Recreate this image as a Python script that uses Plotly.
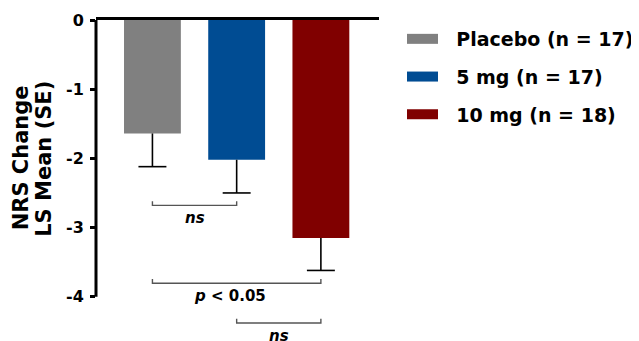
import plotly.graph_objects as go

# ---- data ----
groups = ["Placebo (n = 17)", "5 mg (n = 17)", "10 mg (n = 18)"]
means = [-1.64, -2.02, -3.15]
se = [0.48, 0.48, 0.47]
colors = ["#808080", "#004C93", "#800000"]

ytick_vals = [0, -1, -2, -3, -4]
ytick_text = ["0", "-1", "-2", "-3", "-4"]

comparisons = [(0, 1), (0, 2), (1, 2)]
comp_labels = ["<i>ns</i>", "<i>p</i> &lt; 0.05", "<i>ns</i>"]
comp_levels = [-2.68, -3.805, -4.38]

title_lines = ["NRS Change", "LS Mean (SE)"]

FONT = "DejaVu Sans"
label_xshift = [0, -7, 0]
xpos = list(range(len(groups)))

fig = go.Figure()

# bars
for i, (g, m, c) in enumerate(zip(groups, means, colors)):
    fig.add_trace(go.Bar(x=[xpos[i]], y=[m], width=0.675, marker=dict(color=c, line=dict(width=0)),
                         showlegend=False, hoverinfo="skip"))

# error bars (downward only)
cap = 0.166
ex, ey = [], []
for i, (m, s) in enumerate(zip(means, se)):
    ex += [xpos[i], xpos[i], None, xpos[i] - cap, xpos[i] + cap, None]
    ey += [m, m - s, None, m - s, m - s, None]
fig.add_trace(go.Scatter(x=ex, y=ey, mode="lines", line=dict(color="black", width=1.6),
                         showlegend=False, hoverinfo="skip"))

# comparison brackets
tick_h = 0.06
bx, by = [], []
for (a, b), lev in zip(comparisons, comp_levels):
    bx += [xpos[a], xpos[a], xpos[b], xpos[b], None]
    by += [lev + tick_h, lev, lev, lev + tick_h, None]
fig.add_trace(go.Scatter(x=bx, y=by, mode="lines", line=dict(color="#555555", width=1.4),
                         showlegend=False, hoverinfo="skip"))

for (a, b), lev, lab, xs in zip(comparisons, comp_levels, comp_labels, label_xshift):
    fig.add_annotation(x=(xpos[a] + xpos[b]) / 2, y=lev, xref="x", yref="y", text=lab,
                       showarrow=False, yanchor="top", xanchor="center", yshift=-2, xshift=xs,
                       font=dict(family=FONT, size=15, color="black", weight="bold"))

# legend-only entries (wide swatches)
for i, (g, c) in enumerate(zip(groups, colors)):
    fig.add_trace(go.Scatter(x=[None], y=[None], mode="lines", name="\u00a0\u00a0" + g, legendgroup=g,
                             line=dict(color=c, width=12)))

# y-axis line from 0 to -4
fig.add_shape(type="line", xref="paper", x0=0, x1=0, yref="y", y0=ytick_vals[0], y1=ytick_vals[-1],
              line=dict(color="black", width=3))

# y title (two lines)
for k, t in enumerate(title_lines):
    fig.add_annotation(xref="paper", x=0, yref="y", y=-2, text=t, textangle=-90, showarrow=False,
                       xanchor="center", yanchor="middle", xshift=-75 + 23.4 * k,
                       font=dict(family=FONT, size=21, color="black", weight="bold"))

# page body has an 8px default margin, so the figure is 8px smaller and margins reduced
fig.update_layout(
    width=631, height=333, autosize=False,
    margin=dict(l=88, r=259, t=12, b=0, pad=0),
    paper_bgcolor="white", plot_bgcolor="white",
    barmode="overlay",
    legend=dict(x=1.083, y=1.0, xanchor="left", yanchor="top", tracegroupgap=10,
                font=dict(family=FONT, size=19, color="black", weight="bold"),
                bgcolor="rgba(0,0,0,0)", itemwidth=31),
    xaxis=dict(range=[-0.67, 2.69], side="top", showline=True, linewidth=3, linecolor="black",
               showticklabels=False, ticks="", showgrid=False, zeroline=False),
    yaxis=dict(range=[-4.64, 0], tickvals=ytick_vals, ticktext=ytick_text, ticks="outside",
               ticklen=5, tickwidth=2.5, tickcolor="black", showline=False, showgrid=False,
               zeroline=False, ticklabelstandoff=3,
               tickfont=dict(family=FONT, size=16, color="black", weight="bold")),
)

fig.write_html("out.html")
